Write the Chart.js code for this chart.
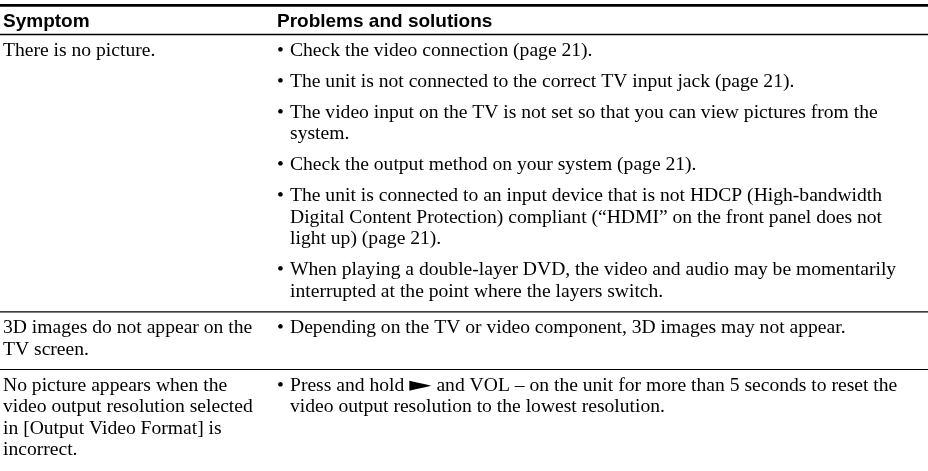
<!DOCTYPE html>
<html>
<head>
<meta charset="utf-8">
<script src="https://cdn.jsdelivr.net/npm/chart.js@4.4.1/dist/chart.umd.min.js"></script>
<style>
  html, body { margin: 0; padding: 0; background: #ffffff; }
  #wrap { width: 928px; height: 471px; position: relative; }
</style>
</head>
<body>
<div id="wrap"><canvas id="c"></canvas></div>
<script>
// ---- Table content ----
const headers = ["Symptom", "Problems and solutions"];

const symptoms = [
  ["There is no picture."],
  ["3D images do not appear on the", "TV screen."],
  ["No picture appears when the", "video output resolution selected", "in [Output Video Format] is", "incorrect."]
];

const solutions = [
  [
    ["Check the video connection (page 21)."],
    ["The unit is not connected to the correct TV input jack (page 21)."],
    ["The video input on the TV is not set so that you can view pictures from the", "system."],
    ["Check the output method on your system (page 21)."],
    ["The unit is connected to an input device that is not HDCP (High-bandwidth", "Digital Content Protection) compliant (\u201cHDMI\u201d on the front panel does not", "light up) (page 21)."],
    ["When playing a double-layer DVD, the video and audio may be momentarily", "interrupted at the point where the layers switch."]
  ],
  [
    ["Depending on the TV or video component, 3D images may not appear."]
  ],
  [
    ["Press and hold \u25BA and VOL \u2013 on the unit for more than 5 seconds to reset the", "video output resolution to the lowest resolution."]
  ]
];

// ---- Layout (in page units, mapped through the chart's scales) ----
const W = 928, H = 471;
const layout = {
  topRuleY: 5.3, topRuleW: 2.8,
  headerY: 21.5, headerRuleY: 34.5, headerRuleW: 1.3,
  rowRuleW: 1.1,
  col1X: 3, bulletX: 277, col2X: 290,
  linePitch: 21.6, bulletPitch: 31,
  padTop: 16, padBottom: 20
};
const BODY_FONT = '19.6px "Liberation Serif", "Times New Roman", serif';
const HEAD_FONT = 'bold 19px "Liberation Sans", Arial, sans-serif';

const tablePlugin = {
  id: 'tableDraw',
  afterDraw(chart) {
    const ctx = chart.ctx;
    const xs = chart.scales.x, ys = chart.scales.y;
    const px = v => xs.getPixelForValue(v);
    const py = v => ys.getPixelForValue(v);
    ctx.save();
    ctx.fillStyle = '#000';
    ctx.strokeStyle = '#000';

    function rule(y, w) {
      ctx.beginPath();
      ctx.lineWidth = w;
      ctx.moveTo(px(0), py(y));
      ctx.lineTo(px(W), py(y));
      ctx.stroke();
    }

    rule(layout.topRuleY, layout.topRuleW);
    ctx.font = HEAD_FONT;
    ctx.textBaseline = 'middle';
    ctx.fillText(headers[0], px(layout.col1X), py(layout.headerY));
    ctx.fillText(headers[1], px(layout.bulletX), py(layout.headerY));
    rule(layout.headerRuleY, layout.headerRuleW);

    ctx.font = BODY_FONT;
    let top = layout.headerRuleY;
    for (let r = 0; r < symptoms.length; r++) {
      const first = top + layout.padTop;
      symptoms[r].forEach((t, i) => {
        ctx.fillText(t, px(layout.col1X), py(first + i * layout.linePitch));
      });
      const symLast = first + (symptoms[r].length - 1) * layout.linePitch;
      let y = first;
      let last = first;
      solutions[r].forEach((para, pi) => {
        if (pi > 0) y = last + layout.bulletPitch;
        ctx.fillText('\u2022', px(layout.bulletX), py(y));
        para.forEach((t, li) => {
          const yy = y + li * layout.linePitch;
          drawLine(t, px(layout.col2X), py(yy));
          last = yy;
        });
      });
      const bottom = Math.max(last, symLast) + layout.padBottom;
      if (r < symptoms.length - 1) rule(bottom, layout.rowRuleW);
      top = bottom;
    }
    ctx.restore();

    function drawLine(t, x, y) {
      const idx = t.indexOf('\u25BA');
      if (idx < 0) { ctx.fillText(t, x, y); return; }
      const a = t.slice(0, idx), b = t.slice(idx + 1);
      ctx.fillText(a, x, y);
      let cx = x + ctx.measureText(a).width;
      const f = ctx.font;
      ctx.font = '20px "DejaVu Sans", sans-serif';
      const gw = ctx.measureText('\u25BA').width;
      ctx.save();
      ctx.translate(cx, y);
      ctx.scale(1.45, 1);
      ctx.fillText('\u25BA', 0, 0);
      ctx.restore();
      cx += gw * 1.45;
      ctx.font = f;
      ctx.fillText(b, cx, y);
    }
  }
};

new Chart(document.getElementById('c'), {
  type: 'scatter',
  data: { datasets: [{ data: [], pointRadius: 0 }] },
  options: {
    responsive: true,
    maintainAspectRatio: false,
    animation: false,
    layout: { padding: 0 },
    plugins: { legend: { display: false }, tooltip: { enabled: false } },
    scales: {
      x: { type: 'linear', min: 0, max: W, display: false },
      y: { type: 'linear', min: 0, max: H, reverse: true, display: false }
    }
  },
  plugins: [tablePlugin]
});
</script>
</body>
</html>
